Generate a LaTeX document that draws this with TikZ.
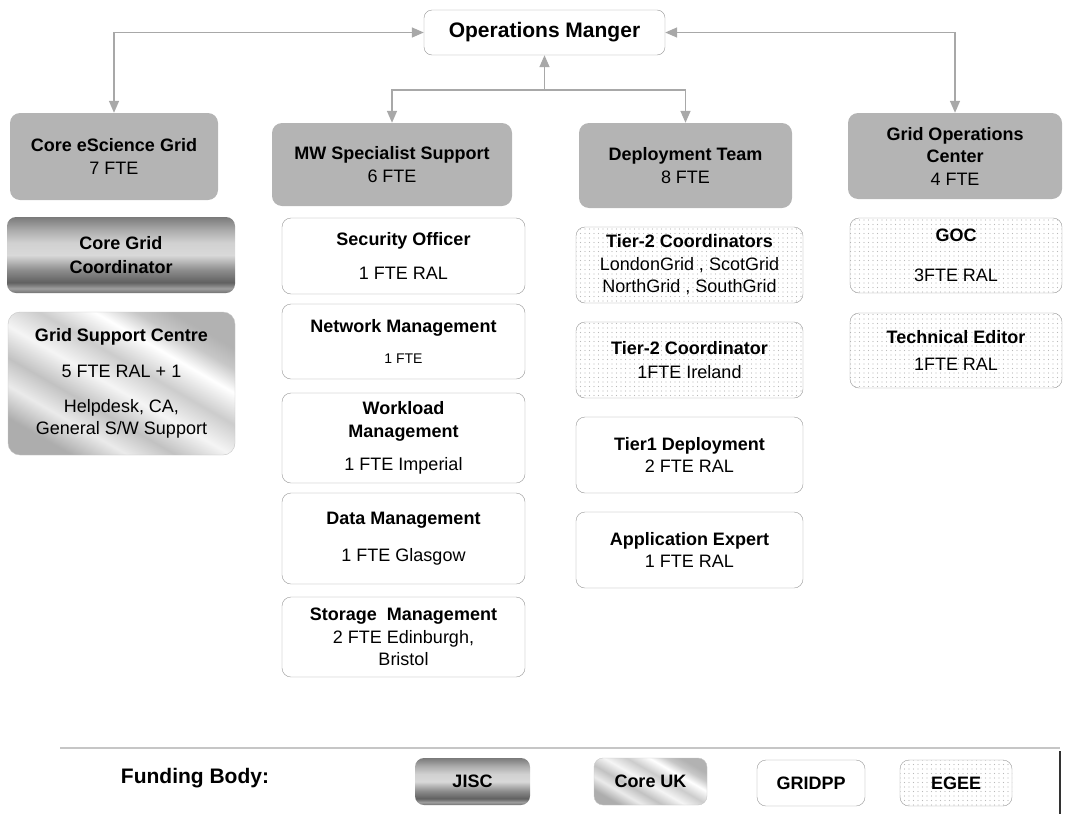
\documentclass[tikz,border=0pt]{standalone}
\usepackage{fontspec}
\setmainfont{Liberation Sans}
\usepackage{tikz}
\usetikzlibrary{calc,positioning,arrows.meta,shapes,patterns}

\definecolor{boxgray}{RGB}{180,180,180}
\definecolor{linegray}{RGB}{168,168,168}
\definecolor{rimgray}{RGB}{150,150,150}

\newcommand{\boxfont}{\fontsize{18}{22.5}\selectfont}
\newcommand{\opfont}{\fontsize{21}{25}\selectfont}
\newcommand{\tinyfte}{\fontsize{14}{17}\selectfont}

\pgfdeclarepatternformonly{finedots}{\pgfpoint{-1pt}{-1pt}}{\pgfpoint{1pt}{1pt}}{\pgfpoint{4.5pt}{4.5pt}}{%
  \pgfpathcircle{\pgfpointorigin}{0.6pt}\pgfusepath{fill}}

\pgfdeclareverticalshading{jiscshade}{100bp}{%
  color(0bp)=(black!55); color(25bp)=(black!55); color(28bp)=(black!38);
  color(32bp)=(black!62); color(40bp)=(black!45); color(50bp)=(black!15);
  color(58bp)=(black!18); color(66bp)=(black!32); color(75bp)=(black!52);
  color(100bp)=(black!52)}
\pgfdeclarehorizontalshading{coreukshade}{100bp}{%
  color(0bp)=(black!32); color(25bp)=(black!32); color(33bp)=(black!8);
  color(40bp)=(black!24); color(48bp)=(black!4); color(56bp)=(black!20);
  color(64bp)=(white); color(70bp)=(black!22); color(75bp)=(black!30);
  color(100bp)=(black!30)}

\begin{document}
\begin{tikzpicture}[x=1pt,y=-1pt]

	\tikzstyle{head} = [rectangle, fill=boxgray, rounded corners=10pt,
		align=center, inner sep=0pt, font=\boxfont]
	\tikzstyle{unit} = [rectangle, draw=rimgray, fill=white, rounded corners=9pt,
		align=center, inner sep=0pt, font=\boxfont]
	\tikzstyle{unit_dots} = [unit, fill=none, pattern=finedots, pattern color=gray!55]
	\tikzstyle{unit_jisc} = [rectangle, rounded corners=9pt, shading=jiscshade,
		align=center, inner sep=0pt, font=\boxfont\bfseries]
	\tikzstyle{unit_core} = [rectangle, draw=gray!45, rounded corners=12pt, shading=coreukshade,
		shading angle=60, align=center, inner sep=0pt, font=\boxfont]
	\tikzstyle{line} = [draw=linegray, line width=1.5pt, >={Triangle[length=12pt,width=10pt]}]

	\useasboundingbox (0,0) rectangle (1065,814);

	\node[unit, minimum width=241pt, minimum height=45pt, rounded corners=8pt,
		font=\opfont\bfseries] (ops) at (544.5,32.5) {Operations Manger};

	\node[head, minimum width=208pt, minimum height=87pt] (cesg) at (114,156.5)
		{\textbf{Core eScience Grid}\\7 FTE};
	\node[head, minimum width=240pt, minimum height=83pt] (mw) at (392,164.5)
		{\textbf{MW Specialist Support}\\6 FTE};
	\node[head, minimum width=213pt, minimum height=85pt] (dep) at (685.5,165.5)
		{\textbf{Deployment Team}\\8 FTE};
	\node[head, minimum width=214pt, minimum height=86pt] (gocteam) at (955,156)
		{\textbf{Grid Operations}\\\textbf{Center}\\4 FTE};

	\coordinate (split) at ($(ops.south)+(0,35)$);
	\draw [line,<->] (ops.west) -| (cesg.north);
	\draw [line,<->] (ops.east) -| (gocteam.north);
	\draw [line,<->] (ops.south) -- (split) -| (mw.north);
	\draw [line,->] (split) -| (dep.north);

	% core escience column
	\node[unit_jisc, minimum width=228pt, minimum height=76pt] (cgc) at (121,255)
		{Core Grid\\[2pt]Coordinator};
	\node[unit_core, minimum width=227pt, minimum height=143pt] (gsc) at (121.5,383.5)
		{\textbf{Grid Support Centre}\\[14pt]5 FTE RAL + 1\\[12pt]Helpdesk, CA,\\General S/W Support};

	% middleware column
	\node[unit, minimum width=243pt, minimum height=76pt] (secoff) at (403.5,256)
		{\textbf{Security Officer}\\[12pt]1 FTE RAL};
	\node[unit, minimum width=243pt, minimum height=75pt] (netman) at (403.5,341.5)
		{\textbf{Network Management}\\[8pt]{\tinyfte 1 FTE}};
	\node[unit, minimum width=243pt, minimum height=90pt] (wlman) at (403.5,438)
		{\textbf{Workload}\\\textbf{Management}\\[11pt]1 FTE Imperial};
	\node[unit, minimum width=243pt, minimum height=91pt] (dataman) at (403.5,538.5)
		{\textbf{Data Management}\\[14pt]1 FTE Glasgow};
	\node[unit, minimum width=243pt, minimum height=80pt] (storman) at (403.5,637)
		{\textbf{Storage\ \ Management}\\2 FTE Edinburgh,\\Bristol};

	% deployment column
	\node[unit_dots, minimum width=227pt, minimum height=76pt] (tiertwos) at (689.5,265)
		{\textbf{Tier-2 Coordinators}\\LondonGrid , ScotGrid\\NorthGrid , SouthGrid};
	\node[unit_dots, minimum width=227pt, minimum height=76pt] (tiertwo) at (689.5,360)
		{\textbf{Tier-2 Coordinator}\\[2pt]1FTE Ireland};
	\node[unit, minimum width=227pt, minimum height=76pt] (tierone) at (689.5,455)
		{\textbf{Tier1 Deployment}\\2 FTE RAL};
	\node[unit, minimum width=227pt, minimum height=76pt] (appexp) at (689.5,550)
		{\textbf{Application Expert}\\1 FTE RAL};

	% goc column
	\node[unit_dots, minimum width=212pt, minimum height=75pt] (goc) at (956,255.5)
		{\textbf{GOC}\\[17pt]3FTE RAL};
	\node[unit_dots, minimum width=212pt, minimum height=75pt] (teched) at (956,350.5)
		{\textbf{Technical Editor}\\[5pt]1FTE RAL};

	%legend
	\draw [gray!45, line width=2pt] (60,748) -- (1060,748);
	\draw [gray!40!black, line width=2pt] (1060,751) -- (1060,814);
	\node[font=\opfont\bfseries] (funding) at (195,778) {Funding Body:};
	\node[unit_jisc, minimum width=115pt, minimum height=47pt] (jisc) at (472.5,781.5) {JISC};
	\node[unit_core, minimum width=113pt, minimum height=47pt, rounded corners=9pt,
		font=\boxfont\bfseries] (coreuk) at (650.5,781.5) {Core UK};
	\node[unit, minimum width=108pt, minimum height=46pt, font=\boxfont\bfseries] (gridpp) at (811,783) {GRIDPP};
	\node[unit_dots, minimum width=112pt, minimum height=46pt, font=\boxfont\bfseries] (egee) at (956,783) {EGEE};
\end{tikzpicture}
\end{document}
